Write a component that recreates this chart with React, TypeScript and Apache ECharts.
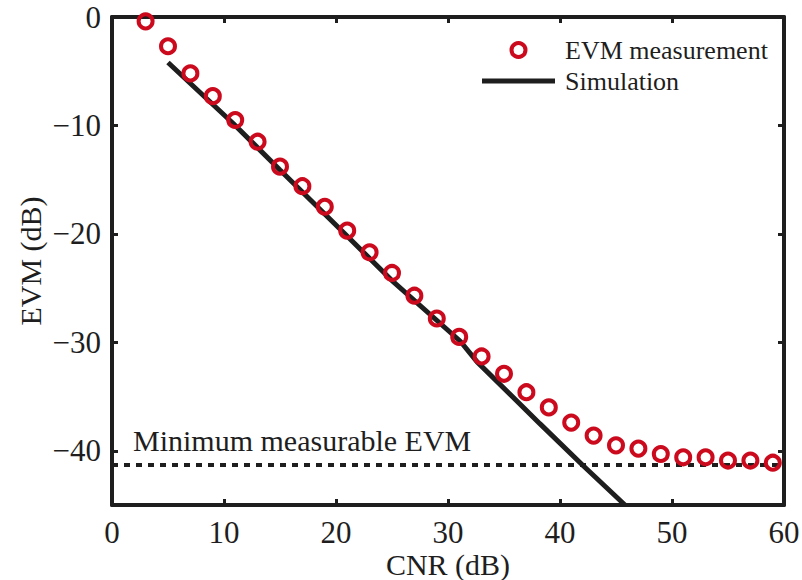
import React, { useEffect, useRef } from "react";
import * as echarts from "echarts";

const cnrMeasured = [3, 5, 7, 9, 11, 13, 15, 17, 19, 21, 23, 25, 27, 29, 31, 33, 35, 37, 39, 41, 43, 45, 47, 49, 51, 53, 55, 57, 59];
const evmMeasured = [-0.4, -2.7, -5.2, -7.3, -9.5, -11.5, -13.8, -15.6, -17.5, -19.7, -21.7, -23.6, -25.7, -27.8, -29.5, -31.3, -32.9, -34.6, -36.0, -37.4, -38.6, -39.5, -39.8, -40.3, -40.6, -40.6, -40.9, -40.9, -41.1];
const cnrSim = [5, 10.8, 15, 20.4, 25, 31.1, 32.6, 38.2, 42.1, 45.8];
const evmSim = [-4.2, -9.8, -14.1, -19.6, -24.3, -29.9, -31.8, -37.5, -41.4, -45];
const minEvmLevel = -41.3;
const xRange = [0, 60];
const yTicks = [0, -10, -20, -30, -40];
const xTicks = [0, 10, 20, 30, 40, 50, 60];

const FONT = "'Liberation Serif', 'Times New Roman', serif";
const RED = "#cc0a1e";
const INK = "#1e1e1e";

export default function App() {
  const ref = useRef<HTMLDivElement>(null);
  useEffect(() => {
    if (!ref.current) return;
    const chart = echarts.init(ref.current, null, { renderer: "svg" });
    const fmt = (v: number) => String(v).replace("-", "\u2212");
    const axisLine = { show: true, onZero: false, lineStyle: { color: INK, width: 4 } };
    const tick = { show: true, inside: true, length: 6, lineStyle: { color: INK, width: 3 } };
    const label = { color: INK, fontFamily: FONT, fontSize: 31, lineHeight: 28 };
    const nameStyle = { color: INK, fontFamily: FONT, fontSize: 30, lineHeight: 30 };
    chart.setOption({
      animation: false,
      backgroundColor: "#fff",
      grid: { left: 112, right: 18, top: 17, bottom: 75, containLabel: false, outerBoundsMode: "none" },
      xAxis: [
        {
          type: "value", min: xRange[0], max: xRange[1], interval: 10, position: "bottom",
          axisLine, axisTick: { ...tick, customValues: xTicks }, splitLine: { show: false },
          axisLabel: { ...label, margin: 13, customValues: xTicks, formatter: fmt },
          name: "CNR (dB)", nameLocation: "middle", nameGap: 44, nameMoveOverlap: false,
          nameTextStyle: nameStyle,
        },
        {
          type: "value", min: xRange[0], max: xRange[1], interval: 10, position: "top",
          axisLine, axisTick: { ...tick, customValues: xTicks }, splitLine: { show: false },
          axisLabel: { show: false },
        },
      ],
      yAxis: [
        {
          type: "value", min: -45, max: 0, position: "left",
          axisLine, axisTick: { ...tick, customValues: yTicks }, splitLine: { show: false },
          axisLabel: { ...label, margin: 11, customValues: yTicks, formatter: fmt },
          name: "EVM (dB)", nameLocation: "middle", nameGap: 67, nameRotate: 90, nameMoveOverlap: false,
          nameTextStyle: nameStyle,
        },
        {
          type: "value", min: -45, max: 0, position: "right",
          axisLine, axisTick: { ...tick, customValues: yTicks }, splitLine: { show: false },
          axisLabel: { show: false },
        },
      ],
      legend: {
        left: 482, top: 36, orient: "vertical", padding: 0, itemGap: 3,
        itemWidth: 73, itemHeight: 14, symbolKeepAspect: true,
        textStyle: { color: INK, fontFamily: FONT, fontSize: 26, lineHeight: 28, padding: [0, 0, 0, 5] },
        data: [
          { name: "EVM measurement", icon: "circle", itemStyle: { color: "rgba(255,255,255,0)", borderColor: RED, borderWidth: 4 } },
          { name: "Simulation", icon: "path://M0,0H73V5H0Z", itemStyle: { color: INK, borderWidth: 0 } },
        ],
      },
      graphic: [
        {
          type: "text", left: 133, top: 425,
          style: { text: "Minimum measurable EVM", fill: INK, font: `30px ${FONT}` },
        },
      ],
      series: [
        {
          name: "Minimum", type: "line", data: xRange.map((x) => [x, minEvmLevel]),
          showSymbol: false, symbol: "none", z: 2,
          lineStyle: { color: INK, width: 4, type: [6, 6] },
        },
        {
          name: "Simulation", type: "line", data: cnrSim.map((x, i) => [x, evmSim[i]]),
          showSymbol: false, symbol: "none", z: 3,
          lineStyle: { color: INK, width: 5 },
        },
        {
          name: "EVM measurement", type: "scatter", data: cnrMeasured.map((x, i) => [x, evmMeasured[i]]),
          symbol: "circle", symbolSize: 14, z: 4,
          itemStyle: { color: "rgba(255,255,255,0)", borderColor: RED, borderWidth: 4, opacity: 1 },
        },
      ],
    });
    return () => chart.dispose();
  }, []);
  return <div ref={ref} style={{ position: "absolute", left: 0, top: 0, width: 802, height: 580 }} />;
}
